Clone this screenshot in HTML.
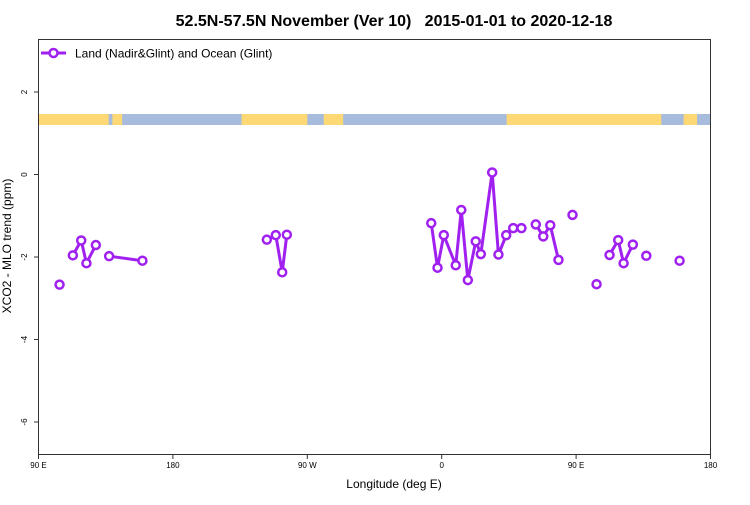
<!DOCTYPE html>
<html><head><meta charset="utf-8"><style>
body{margin:0;background:#fff;font-family:"Liberation Sans",sans-serif}
svg text{font-family:"Liberation Sans",sans-serif}
</style></head><body>
<svg width="750" height="500">
<text x="394" y="26" text-anchor="middle" font-size="16" font-weight="bold" style="white-space:pre" xml:space="preserve">52.5N-57.5N November (Ver 10)   2015-01-01 to 2020-12-18</text>
<g id="band"></g>
<g id="axes"></g>
<g id="series"></g>
<rect x="38.5" y="39.5" width="672" height="415" fill="none" stroke="#333" stroke-width="1"/>
<text x="394" y="488" text-anchor="middle" font-size="12">Longitude (deg E)</text>
<text transform="translate(11,246) rotate(-90)" text-anchor="middle" font-size="12">XCO2 - MLO trend (ppm)</text>
<g>
<line x1="41" y1="53" x2="66" y2="53" stroke="#a020f0" stroke-width="3"/>
<circle cx="53.5" cy="53" r="4" fill="#fff" stroke="#a020f0" stroke-width="2.5"/>
<text x="75" y="57.5" font-size="12">Land (Nadir&amp;Glint) and Ocean (Glint)</text>
</g>
</svg>
<script>
const groups = [
 [[104.1,-2.67]],
 [[113.0,-1.96],[118.6,-1.60],[122.1,-2.15],[128.4,-1.71]],
 [[137.3,-1.98],[159.6,-2.09]],
 [[242.9,-1.58],[248.9,-1.47],[253.2,-2.37],[256.3,-1.46]],
 [[353.0,-1.18],[357.2,-2.26],[361.4,-1.47],[369.4,-2.20],[373.1,-0.86],[377.5,-2.56],[382.8,-1.62],[386.2,-1.93],[393.8,0.05],[398.0,-1.94],[403.2,-1.47],[407.9,-1.30],[413.4,-1.30]],
 [[423.0,-1.21],[428.0,-1.50],[432.7,-1.23],[438.2,-2.07]],
 [[447.6,-0.98]],
 [[463.7,-2.66]],
 [[472.4,-1.95],[478.2,-1.59],[481.8,-2.15],[488.0,-1.70]],
 [[497.0,-1.97]],
 [[519.3,-2.09]]
];
const xTicks=[90,180,270,360,450,540];
const xTickLabels=["90 E","180","90 W","0","90 E","180"];
const yTicks=[2,0,-2,-4,-6];
const landSegs=[[90,137],[139.5,146],[226,270],[281,294],[403.5,507],[522,531]];
const NS="http://www.w3.org/2000/svg";
const X=v=>38.5+(v-90)*672/450;
const Y=v=>174.5-v*41.25;
function mk(t,a,p){const e=document.createElementNS(NS,t);for(const k in a)e.setAttribute(k,a[k]);p.appendChild(e);return e;}
const band=document.getElementById('band');
mk('rect',{x:38.5,y:114,width:672,height:11,fill:'#a7bcdc'},band);
landSegs.forEach(s=>{const r=mk('rect',{x:X(s[0]),y:114,width:X(s[1])-X(s[0]),height:11,fill:'#fdd874'},band);

});
const ax=document.getElementById('axes');
xTicks.forEach((t,i)=>{mk('line',{x1:X(t),x2:X(t),y1:454.5,y2:459,stroke:'#333'},ax);
const tx=mk('text',{x:X(t),y:468,'text-anchor':'middle','font-size':8},ax);tx.textContent=xTickLabels[i];

});
yTicks.forEach(t=>{mk('line',{x1:34,x2:38.5,y1:Y(t),y2:Y(t),stroke:'#333'},ax);
const tx=mk('text',{x:0,y:0,'text-anchor':'middle','font-size':8,transform:`translate(27,${Y(t)}) rotate(-90)`},ax);tx.textContent=t;

});
const ser=document.getElementById('series');
groups.forEach(g=>{
 if(g.length>1){const pl=mk('polyline',{points:g.map(p=>X(p[0])+','+Y(p[1])).join(' '),fill:'none',stroke:'#a020f0','stroke-width':3,'stroke-linejoin':'round'},ser);
 
 }
 g.forEach(p=>{const c=mk('circle',{cx:X(p[0]),cy:Y(p[1]),r:4,fill:'#fff',stroke:'#a020f0','stroke-width':2.5},ser);
 
 });
});
</script>
</body></html>
